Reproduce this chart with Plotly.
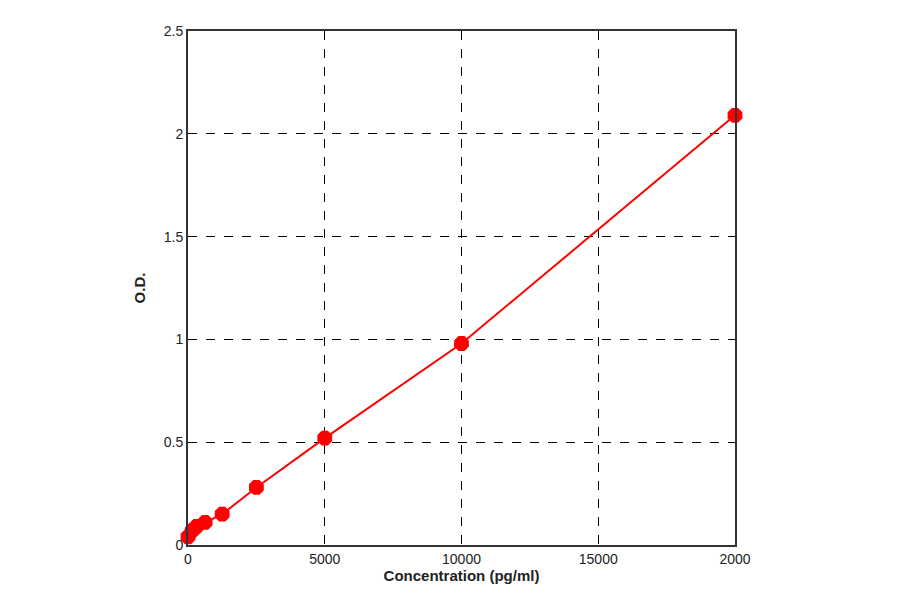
'''standard curve'''
import plotly.graph_objects as go

conc = [0, 156.25, 312.5, 625, 1250, 2500, 5000, 10000, 20000]
od = [0.04, 0.07, 0.09, 0.11, 0.15, 0.28, 0.52, 0.98, 2.09]
x_ticks = [0, 5000, 10000, 15000, 20000]
x_labels = ["0", "5000", "10000", "15000", "2000"]
y_ticks = [0, 0.5, 1, 1.5, 2, 2.5]
y_labels = ["0", "0.5", "1", "1.5", "2", "2.5"]

fig = go.Figure()
fig.add_trace(go.Scatter(x=conc, y=od, mode="lines+markers", cliponaxis=False,
                         line=dict(color="#ff0000", width=2),
                         marker=dict(color="#ff0000", size=16, symbol="octagon")))

axis_style = dict(showline=True, linecolor="#333", linewidth=2, mirror=True,
                  gridcolor="black", griddash="dash", gridwidth=1,
                  zeroline=False, ticks="", tickfont=dict(family="Arial", size=14, color="#222"))
fig.update_layout(
    width=900, height=594, plot_bgcolor="white", paper_bgcolor="white",
    margin=dict(l=180, r=173, t=23, b=57), showlegend=False,
    font=dict(family="Arial", color="#222"),
    xaxis=dict(range=[0, 20000], tickvals=x_ticks, ticktext=x_labels,
               title=dict(text="<b>Concentration (pg/ml)</b>", font=dict(size=15), standoff=4),
               **axis_style),
    yaxis=dict(range=[0, 2.5], tickvals=y_ticks, ticktext=y_labels,
               title=dict(text="<b>O.D.</b>", font=dict(size=15), standoff=14),
               **axis_style),
)
fig.write_html("out.html")
